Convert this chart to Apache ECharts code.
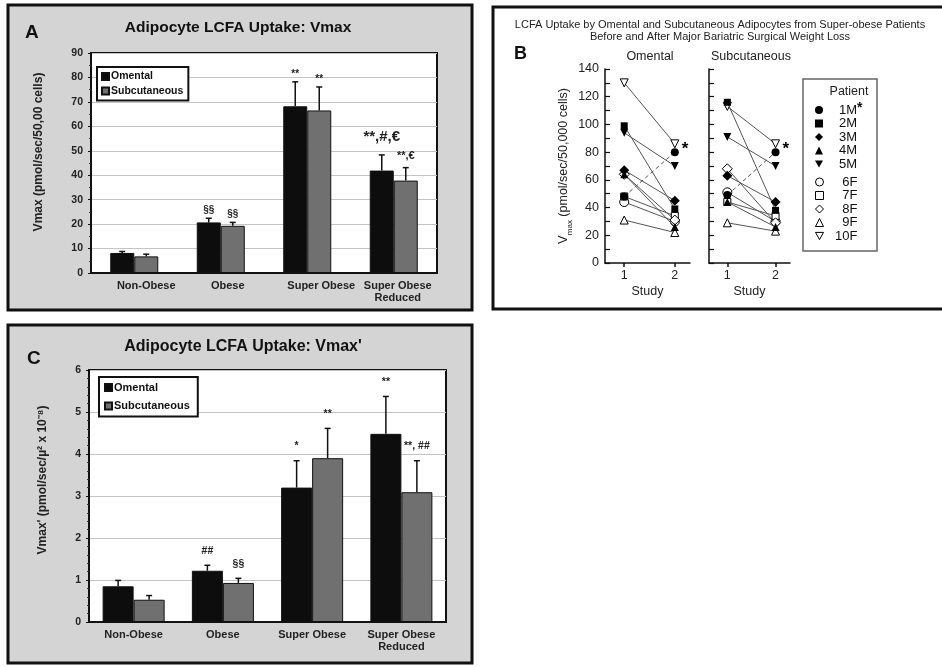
<!DOCTYPE html>
<html><head><meta charset="utf-8">
<script src="https://cdn.jsdelivr.net/npm/echarts@6/dist/echarts.min.js"></script>
<style>html,body{margin:0;padding:0;background:#fff}#c{width:942px;height:667px}</style>
</head><body><div id="c"></div>
<script>
// ---------- DATA ----------
const categories = ['Non-Obese', 'Obese', 'Super Obese', 'Super Obese\nReduced'];
// Panel A: Vmax
const vmaxOmental = [8.2, 20.7, 68.2, 41.9];
const vmaxOmentalTop = [8.8, 22.4, 78.2, 48.3];
const vmaxSubcut = [6.8, 19.3, 66.5, 37.8];
const vmaxSubcutTop = [7.7, 20.7, 76.1, 43.1];
const vmaxOmentalSig = ['', '§§', '**', '**,#,€'];
const vmaxSubcutSig = ['', '§§', '**', '**,€'];
const vmaxTicks = [0, 10, 20, 30, 40, 50, 60, 70, 80, 90];
// Panel C: Vmax'
const vmaxPOmental = [0.85, 1.22, 3.2, 4.48];
const vmaxPOmentalTop = [0.99, 1.35, 3.84, 5.37];
const vmaxPSubcut = [0.53, 0.93, 3.9, 3.09];
const vmaxPSubcutTop = [0.63, 1.04, 4.61, 3.84];
const vmaxPOmentalSig = ['', '##', '*', '**'];
const vmaxPSubcutSig = ['', '§§', '**', '**, ##'];
const vmaxPTicks = [0, 1, 2, 3, 4, 5, 6];
// Panel B: individual patients, study 1 vs study 2
const patients = ['1M', '2M', '3M', '4M', '5M', '6F', '7F', '8F', '9F', '10F'];
const omentalStudy1 = [48, 99, 67, 64, 94, 44, 48, 64, 31, 130];
const omentalStudy2 = [80, 39, 45, 26, 70, 30, 34, 31, 22, 86];
const subcutStudy1 = [49, 116, 63, 44, 91, 51, 44, 68, 29, 113];
const subcutStudy2 = [80, 38, 44, 26, 70, 30, 34, 29, 23, 86];
const studyTicks = [1, 2];
const patientTicks = [0, 20, 40, 60, 80, 100, 120, 140];

// ---------- STYLE ----------
const FF = "'Liberation Sans', Arial, Helvetica, sans-serif";
const INK = '#111';
const triDown = 'path://M0,0L10,0L5,9Z';
const symbols = ['circle', 'rect', 'diamond', 'triangle', triDown, 'circle', 'rect', 'diamond', 'triangle', triDown];
const symSizes = [8, 7, 10, 8, 8, 9, 7, 10, 8, 8];
const labelShiftA = [24, 14, 28, 8];  // label nudges (px padding) for panel A category labels

const measureCtx = document.createElement('canvas').getContext('2d');
function textW(t, font) { measureCtx.font = font; return measureCtx.measureText(t).width; }

function errorSeries(gi, means, tops, sigs, side, barW, styleFn) {
  return {
    type: 'custom', xAxisIndex: gi, yAxisIndex: gi, z: 5, silent: true,
    data: means.map((m, i) => [i, m, tops[i]]),
    renderItem: (params, api) => {
      const i = api.value(0);
      const p1 = api.coord([i, api.value(1)]);
      const p2 = api.coord([i, api.value(2)]);
      const x = p1[0] + side * barW / 2;
      const txt = sigs[params.dataIndex];
      const ch = [
        {type: 'line', shape: {x1: x, y1: p1[1], x2: x, y2: p2[1]}, style: {stroke: INK, lineWidth: 1.5}},
        {type: 'line', shape: {x1: x - 3, y1: p2[1], x2: x + 3, y2: p2[1]}, style: {stroke: INK, lineWidth: 1.5}}
      ];
      if (txt) {
        const s = styleFn(txt);
        ch.push({type: 'text', style: {text: txt, x: x, y: p2[1] - s.gap, align: 'center', verticalAlign: 'bottom', font: s.font, fill: '#222'}});
      }
      return {type: 'group', children: ch};
    }
  };
}

function barAxisX(gi, shifts) {
  const data = categories.map((c, i) => shifts ? {value: c, textStyle: {padding: [0, 0, 0, shifts[i]]}} : c);
  return {type: 'category', gridIndex: gi, data: data,
    axisLine: {lineStyle: {color: INK, width: 2}}, axisTick: {show: false},
    axisLabel: {interval: 0, margin: 7, fontFamily: FF, fontWeight: 'bold', fontSize: 11, color: '#222', lineHeight: 12}};
}
function barAxisY(gi, ticks, name, gap, shift, minorN) {
  return {type: 'value', gridIndex: gi, min: ticks[0], max: ticks[ticks.length - 1], interval: ticks[1] - ticks[0],
    name: name, nameLocation: 'middle', nameRotate: 90, nameGap: gap,
    nameTextStyle: {fontFamily: FF, fontWeight: 'bold', fontSize: 12, color: '#222', padding: [0, 0, 0, shift]},
    axisLine: {show: true, lineStyle: {color: INK, width: 2}},
    axisTick: {show: true, length: 3, lineStyle: {color: INK}},
    minorTick: {show: true, splitNumber: minorN, length: 2, lineStyle: {color: '#333'}},
    splitLine: {lineStyle: {color: '#c4c4c4', width: 1}},
    axisLabel: {fontFamily: FF, fontWeight: 'bold', fontSize: 10.5, color: '#222', margin: 8}};
}
function patAxisX(gi) {
  return {type: 'value', gridIndex: gi, min: 0.62, max: 2.3,
    name: 'Study', nameLocation: 'middle', nameGap: 22,
    nameTextStyle: {fontFamily: FF, fontSize: 12.5, color: '#222'},
    axisLine: {show: true, lineStyle: {color: INK, width: 1.5}},
    axisTick: {show: true, customValues: studyTicks, length: 4, lineStyle: {color: INK, width: 1.5}},
    axisLabel: {customValues: studyTicks, fontFamily: FF, fontSize: 12.5, color: '#222', margin: 6},
    splitLine: {show: false}};
}
function patAxisY(gi, showLabel) {
  return {type: 'value', gridIndex: gi, min: patientTicks[0], max: patientTicks[patientTicks.length - 1], interval: 20,
    name: showLabel ? '{v|V}{s|max}{n| (pmol/sec/50,000 cells)}' : '', nameLocation: 'middle', nameRotate: 90, nameGap: 30,
    nameTextStyle: {fontFamily: FF, fontSize: 12.5, color: '#222',
      rich: {v: {fontFamily: FF, fontSize: 13, color: '#222'}, s: {fontFamily: FF, fontSize: 8, color: '#222', verticalAlign: 'bottom', padding: [0, 0, -4, 0]}, n: {fontFamily: FF, fontSize: 12.5, color: '#222'}}},
    axisLine: {show: true, lineStyle: {color: INK, width: 1.5}},
    axisTick: {show: true, inside: true, length: 5, lineStyle: {color: INK, width: 1.2}},
    minorTick: {show: true, splitNumber: 2, length: 5, lineStyle: {color: INK, width: 1.2}},
    splitLine: {show: false},
    axisLabel: {show: showLabel, fontFamily: FF, fontSize: 12.5, color: '#222', margin: 6}};
}

const series = [
  {type: 'bar', name: 'Omental', xAxisIndex: 0, yAxisIndex: 0, data: vmaxOmental, barWidth: 24, barGap: '0%', itemStyle: {color: '#0d0d0d', borderColor: INK, borderWidth: 1}, silent: true},
  {type: 'bar', name: 'Subcutaneous', xAxisIndex: 0, yAxisIndex: 0, data: vmaxSubcut, barWidth: 24, barGap: '0%', itemStyle: {color: '#707070', borderColor: INK, borderWidth: 1}, silent: true},
  errorSeries(0, vmaxOmental, vmaxOmentalTop, vmaxOmentalSig, -1, 24, t => t.length > 4 ? {font: 'bold 15px ' + FF, gap: 11} : {font: 'bold 10px ' + FF, gap: 3}),
  errorSeries(0, vmaxSubcut, vmaxSubcutTop, vmaxSubcutSig, 1, 24, t => t.length > 3 ? {font: 'bold 11px ' + FF, gap: 6} : {font: 'bold 10px ' + FF, gap: 3}),
  {type: 'bar', name: 'Omental', xAxisIndex: 3, yAxisIndex: 3, data: vmaxPOmental, barWidth: 31, barGap: '0%', itemStyle: {color: '#0d0d0d', borderColor: INK, borderWidth: 1}, silent: true},
  {type: 'bar', name: 'Subcutaneous', xAxisIndex: 3, yAxisIndex: 3, data: vmaxPSubcut, barWidth: 31, barGap: '0%', itemStyle: {color: '#707070', borderColor: INK, borderWidth: 1}, silent: true},
  errorSeries(3, vmaxPOmental, vmaxPOmentalTop, vmaxPOmentalSig, -1, 31, t => ({font: 'bold 10.5px ' + FF, gap: 9})),
  errorSeries(3, vmaxPSubcut, vmaxPSubcutTop, vmaxPSubcutSig, 1, 31, t => ({font: 'bold 10.5px ' + FF, gap: 9}))
];

patients.forEach((p, k) => {
  const filled = p.endsWith('M');
  const base = {type: 'line', name: p, symbol: symbols[k], symbolSize: symSizes[k], silent: true, z: 3 + (filled ? 1 : 0),
    lineStyle: {color: '#555', width: 1, type: p === '1M' ? [4, 3] : 'solid'},
    itemStyle: {color: filled ? '#000' : '#fff', borderColor: '#000', borderWidth: filled ? 0 : 1},
    emphasis: {disabled: true}};
  const star = p === '1M' ? {label: {show: true, formatter: '*', position: 'right', distance: 3, offset: [0, -3], fontFamily: FF, fontSize: 17, fontWeight: 'bold', color: '#000'}} : {};
  series.push(Object.assign({}, base, {xAxisIndex: 1, yAxisIndex: 1,
    data: [[studyTicks[0], omentalStudy1[k]], Object.assign({value: [studyTicks[1], omentalStudy2[k]]}, star)]}));
  series.push(Object.assign({}, base, {xAxisIndex: 2, yAxisIndex: 2,
    data: [[studyTicks[0], subcutStudy1[k]], Object.assign({value: [studyTicks[1], subcutStudy2[k]]}, star)]}));
});

const LEG_FONT = '13px ' + FF;
const LEG_AVAIL = 29; // text box width so names right-align at the same edge
function patLegendData(list) {
  return list.map(p => {
    const k = patients.indexOf(p);
    const filled = p.endsWith('M');
    const pad = Math.max(0, LEG_AVAIL - textW(p, LEG_FONT));
    return {name: p, icon: symbols[k],
      itemStyle: {color: filled ? '#000' : '#fff', borderColor: '#000', borderWidth: filled ? 0 : 1},
      textStyle: {padding: [0, 0, 0, pad]}};
  });
}
const patLegendText = {fontFamily: FF, fontSize: 13, color: '#111', lineHeight: 13,
  rich: {n: {fontFamily: FF, fontSize: 13, color: '#111', lineHeight: 13},
         s: {fontFamily: FF, fontSize: 14, fontWeight: 'bold', color: '#111', lineHeight: 13, verticalAlign: 'top', padding: [-2, 0, 0, 0]}}};
const patLegendFmt = n => n === '1M' ? '{n|' + n + '}{s|*}' : '{n|' + n + '}';

const option = {
  animation: false,
  backgroundColor: '#fff',
  graphic: {elements: [
    {type: 'rect', z: -100, shape: {x: 8, y: 5, width: 464, height: 305}, style: {fill: '#d4d4d4', stroke: '#111', lineWidth: 3}},
    {type: 'rect', z: -100, shape: {x: 8, y: 325, width: 464, height: 338}, style: {fill: '#d4d4d4', stroke: '#111', lineWidth: 3}},
    {type: 'rect', z: -100, shape: {x: 493, y: 7, width: 470, height: 302}, style: {fill: '#fff', stroke: '#111', lineWidth: 3}},
    {type: 'rect', z: -50, shape: {x: 803, y: 79, width: 74, height: 172}, style: {fill: 'none', stroke: '#666', lineWidth: 1.5}}
  ]},
  title: [
    {text: 'A', left: 25, top: 23, padding: 0, textStyle: {fontFamily: FF, fontSize: 19, fontWeight: 'bold', color: INK}},
    {text: 'Adipocyte LCFA Uptake: Vmax', left: 238, top: 20, padding: 0, textAlign: 'center', textStyle: {fontFamily: FF, fontSize: 15.5, fontWeight: 'bold', color: INK}},
    {text: 'C', left: 27, top: 349, padding: 0, textStyle: {fontFamily: FF, fontSize: 19, fontWeight: 'bold', color: INK}},
    {text: "Adipocyte LCFA Uptake: Vmax'", left: 243, top: 339, padding: 0, textAlign: 'center', textStyle: {fontFamily: FF, fontSize: 16, fontWeight: 'bold', color: INK}},
    {text: 'B', left: 514, top: 45, padding: 0, textStyle: {fontFamily: FF, fontSize: 18, fontWeight: 'bold', color: INK}},
    {text: 'LCFA Uptake by Omental and Subcutaneous Adipocytes from Super-obese Patients\nBefore and After Major Bariatric Surgical Weight Loss', left: 720, top: 19, padding: 0, textAlign: 'center', textStyle: {fontFamily: FF, fontSize: 11, fontWeight: 'normal', color: '#222', lineHeight: 12}},
    {text: 'Omental', left: 650, top: 50, padding: 0, textAlign: 'center', textStyle: {fontFamily: FF, fontSize: 12.5, fontWeight: 'normal', color: '#222'}},
    {text: 'Subcutaneous', left: 751, top: 50, padding: 0, textAlign: 'center', textStyle: {fontFamily: FF, fontSize: 12.5, fontWeight: 'normal', color: '#222'}},
    {text: 'Patient', left: 849, top: 85, padding: 0, textAlign: 'center', textStyle: {fontFamily: FF, fontSize: 12.5, fontWeight: 'normal', color: '#222'}}
  ],
  legend: [
    {data: ['Omental', 'Subcutaneous'], left: 97, top: 67, orient: 'vertical', icon: 'rect', itemWidth: 7, itemHeight: 7, itemGap: 1.5,
      backgroundColor: '#fff', borderColor: INK, borderWidth: 2, padding: [3, 5, 3, 4], selectedMode: false,
      textStyle: {fontFamily: FF, fontSize: 10.5, fontWeight: 'bold', color: INK, lineHeight: 13, padding: [0, 0, 0, -3]}},
    {data: ['Omental', 'Subcutaneous'], left: 99, top: 377, orient: 'vertical', icon: 'rect', itemWidth: 7, itemHeight: 7, itemGap: 5.5,
      backgroundColor: '#fff', borderColor: INK, borderWidth: 2, padding: [4, 8, 4, 5], selectedMode: false,
      textStyle: {fontFamily: FF, fontSize: 11, fontWeight: 'bold', color: INK, lineHeight: 13, padding: [0, 0, 0, -3]}},
    {data: patLegendData(patients.slice(0, 5)), left: 815, top: 101.5, orient: 'vertical', itemWidth: 8, itemHeight: 8, itemGap: 0.5, padding: 0,
      selectedMode: false, formatter: patLegendFmt, textStyle: patLegendText},
    {data: patLegendData(patients.slice(5)), left: 815, top: 175.5, orient: 'vertical', itemWidth: 8, itemHeight: 8, itemGap: 0.5, padding: 0,
      selectedMode: false, formatter: patLegendFmt, textStyle: patLegendText}
  ],
  grid: [
    {left: 91, top: 53, width: 346, height: 220, show: true, backgroundColor: '#fff', borderColor: INK, borderWidth: 2},
    {left: 605, top: 69, width: 85, height: 194},
    {left: 709, top: 69, width: 81, height: 194},
    {left: 89, top: 370, width: 357, height: 252, show: true, backgroundColor: '#fff', borderColor: INK, borderWidth: 2}
  ],
  xAxis: [barAxisX(0, labelShiftA), patAxisX(1), patAxisX(2), barAxisX(3, null)],
  yAxis: [
    barAxisY(0, vmaxTicks, 'Vmax (pmol/sec/50,00 cells)', 46, 22, 2),
    patAxisY(1, true),
    patAxisY(2, false),
    barAxisY(3, vmaxPTicks, "Vmax' (pmol/sec/µ² x 10⁻⁸)", 40, 32, 5)
  ],
  series: series
};
const chart = echarts.init(document.getElementById('c'), null, {renderer: 'canvas'});
chart.setOption(option);
</script></body></html>
